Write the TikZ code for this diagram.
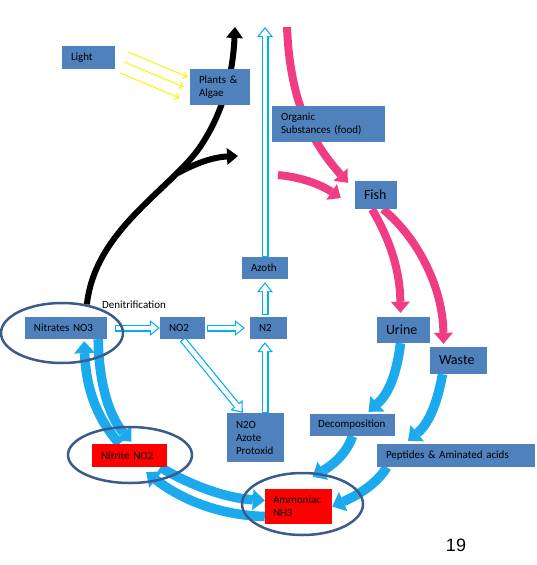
\documentclass[tikz,border=0pt]{standalone}
\usepackage{fontspec}
\setmainfont{Carlito}
\newfontfamily\pagefont{Liberation Sans}
\usetikzlibrary{arrows.meta,positioning,shapes.geometric,backgrounds}
\definecolor{boxblue}{HTML}{4F81BD}
\definecolor{ringblue}{HTML}{3B5B8C}
\definecolor{flowblue}{HTML}{1CAAEE}
\definecolor{gasblue}{HTML}{00B0F0}
\definecolor{fishpink}{HTML}{F03C82}

\begin{document}
\begin{tikzpicture}[x=1pt,y=-1pt,box/.style={fill=boxblue,align=left,inner xsep=9pt,inner ysep=0pt,font=\fontsize{11}{13}\selectfont},redbox/.style={box,fill=red},bigbox/.style={box,font=\fontsize{14}{16}\selectfont},ringmark/.style={draw=ringblue,line width=2.5pt,ellipse,inner sep=0pt},blackarr/.style={line width=6pt,-{Triangle[length=11pt,width=17pt,line width=0pt]}},pinkarr/.style={draw=fishpink,line width=8pt,-{Triangle[length=11pt,width=19pt,line width=0pt]}},bluearr/.style={draw=flowblue,line width=9.5pt,-{Triangle[length=12pt,width=21pt,line width=0pt]}},gasarr/.style={draw=gasblue,line width=7pt,-{Triangle[length=10pt,width=16pt,line width=0pt]},postaction={draw=white,line width=4.6pt,shorten <=1.2pt,shorten >=1.92pt,-{Triangle[length=6.88pt,width=11pt,line width=0pt]}}},sunarr/.style={draw=yellow,line width=1pt,-{Straight Barb[length=4pt,width=7pt]}}]
\useasboundingbox (0,0) rectangle (536,565);
% boxes
\node[box,text width=35pt,minimum height=23pt] (light) at (88.5,57.5) {Light};
\node[box,text width=42pt,minimum height=36pt] (plants) at (220,87) {Plants \&\\Algae};
\node[box,text width=95pt,minimum height=36pt] (organic) at (328.5,124) {Organic\\Substances (food)};
\node[bigbox,text width=24pt,minimum height=28pt] (fish) at (376,195) {Fish};
\node[bigbox,text width=35pt,minimum height=26pt] (urine) at (403.5,330) {Urine};
\node[bigbox,text width=39pt,minimum height=27pt] (waste) at (458.5,360.5) {Waste};
\node[box,inner xsep=8pt,text width=69pt,minimum height=22pt] (decomp) at (352.5,425) {Decomposition};
\node[box,text width=140pt,minimum height=23pt] (peptides) at (456,455.5) {Peptides \& Aminated acids};
\node[box,text width=28pt,minimum height=22pt] (azoth) at (265,268) {Azoth};
\node[box,text width=19pt,minimum height=22pt] (ntwo) at (268.5,328) {N2};
\node[box,text width=27pt,minimum height=22pt] (notwo) at (182.5,328) {NO2};
\node[box,text width=64pt,minimum height=22pt] (nitrates) at (66,328) {Nitrates NO3};
\node[box,text width=39pt,minimum height=49pt] (ntwoo) at (255.5,437.5) {N2O\\Azote\\Protoxid};
\node[redbox,text width=57pt,minimum height=23pt] (nitrite) at (129.5,455.5) {Nitrite NO2};
\node[redbox,inner xsep=8pt,text width=51pt,minimum height=35pt] (ammoniac) at (298.5,506.5) {Ammoniac\\NH3};
% rings
\node[ringmark,minimum width=122pt,minimum height=60pt] (no3ring) at (62,333) {};
\node[ringmark,minimum width=124pt,minimum height=56pt] (no2ring) at (130,455) {};
\node[ringmark,minimum width=121pt,minimum height=62pt] (nh3ring) at (302.5,504) {};
\node[font=\fontsize{11}{12}\selectfont] (denitr) at (134,305) {Denitrification};
\node[font=\pagefont\fontsize{18}{20}\selectfont] (pagenum) at (456,545) {19};
\coordinate (sky) at (235,27);
\coordinate (fork) at (178,173);
\coordinate (leaf) at (238,156);
\coordinate (air) at (265,27);
\coordinate (foodtop) at (287,27);
\coordinate (foodin) at (278,175);
\begin{scope}[on background layer]
% light and plants
\draw[sunarr] ([xshift=13pt,yshift=5.5pt]light.east) -- ([xshift=-2pt,yshift=10pt]plants.west);
\draw[sunarr] ([xshift=9pt,yshift=-4.5pt]light.east) -- ([xshift=-6pt]plants.west);
\draw[sunarr] ([xshift=5pt,yshift=-15.5pt]light.east) -- ([xshift=-10pt,yshift=-11pt]plants.west);
\draw[blackarr] (no3ring.49) .. controls (95,230) and (170,190) .. (200,147) .. controls (225,110) and (233,70) .. (sky);
\draw[blackarr] (fork) .. controls (198,162) and (215,157) .. (leaf);
% food and fish
\draw[pinkarr] (foodtop) .. controls (290,100) and (310,140) .. ([xshift=-7pt,yshift=-2pt]fish.north west);
\draw[pinkarr] (foodin) .. controls (300,177) and (320,184) .. ([xshift=-14pt,yshift=-3pt]fish.west);
\draw[pinkarr] ([xshift=-4pt]fish.south) .. controls (390,240) and (400,270) .. ([xshift=-3pt,yshift=4pt]urine.north);
\draw[pinkarr] ([xshift=7pt]fish.south) .. controls (420,240) and (443,290) .. ([xshift=-15pt,yshift=3pt]waste.north);
% ammonia cycle
\draw[bluearr] ([xshift=-3pt]urine.south) .. controls (396,380) and (386,396) .. ([xshift=16pt,yshift=2pt]decomp.north);
\draw[bluearr] ([xshift=-16pt]waste.south) .. controls (436,410) and (426,426) .. ([xshift=-48pt,yshift=3pt]peptides.north);
\draw[bluearr] (decomp.south) .. controls (346,455) and (331,466) .. ([xshift=14pt,yshift=12pt]ammoniac.north);
\draw[bluearr] ([xshift=10pt]peptides.south west) .. controls (376,485) and (356,496) .. (ammoniac.east);
\draw[bluearr] ([xshift=-9pt]nitrates.south east) .. controls (99,390) and (112,420) .. ([xshift=2pt,yshift=2pt]nitrite.north);
\draw[bluearr] ([xshift=-10pt]nitrite.north) .. controls (98,420) and (86,390) .. ([xshift=-23pt,yshift=-2pt]nitrates.south east);
\draw[bluearr] ([xshift=-7pt]nitrite.south east) .. controls (190,485) and (225,498) .. ([yshift=6pt]ammoniac.west);
\draw[bluearr] ([yshift=-10pt]ammoniac.west) .. controls (215,515) and (178,497) .. ([xshift=-21pt,yshift=-5pt]nitrite.south east);
% denitrification
\draw[gasarr] ([xshift=8pt]nitrates.east) -- (notwo.west);
\draw[gasarr] ([xshift=2pt]notwo.east) -- ([xshift=-5pt]ntwo.west);
\draw[gasarr] (notwo.south) -- ([xshift=16pt]ntwoo.north west);
\draw[gasarr] ([xshift=9.5pt]ntwoo.north) -- ([xshift=-3.5pt,yshift=-3pt]ntwo.south);
\draw[gasarr] ([xshift=-3.5pt,yshift=2pt]ntwo.north) -- ([yshift=-3pt]azoth.south);
\draw[gasarr] (azoth.north) -- (air);
\end{scope}
\end{tikzpicture}
\end{document}
